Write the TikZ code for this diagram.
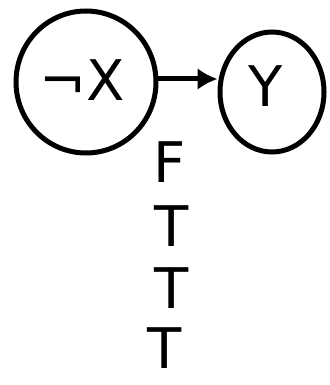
\documentclass[tikz,border=0pt]{standalone}
\usepackage{fontspec}
\setmainfont{DejaVu Sans}
\usetikzlibrary{arrows.meta,shapes.geometric}
\tikzset{
  circ/.style={draw, line width=5pt, ellipse},
  lbl/.style={font=\fontsize{56}{56}\selectfont, inner sep=0pt},
  conn/.style={line width=5pt, -{Latex[length=20pt,width=22pt]}, line cap=round}
}
\begin{document}
\begin{tikzpicture}[x=1pt,y=1pt]
\useasboundingbox (0,0) rectangle (329,-385);
\node[circ, minimum width=140pt, minimum height=142pt] (nx) at (86,-82) {};
\node[circ, minimum width=104pt, minimum height=120pt] (ny) at (272,-92) {};
\node[lbl] (tx) at (82,-80) {¬X};
\node[lbl] (ty) at (266,-86) {Y};
\coordinate (a1) at ([yshift=3pt]nx.east);
\draw[conn] (a1) -- (a1 -| ny.west);
\node[lbl] (f) at (170,-162) {F};
\node[lbl] (t1) at (172,-226) {T};
\node[lbl] (t2) at (172,-288) {T};
\node[lbl] (t3) at (165,-348) {T};
\end{tikzpicture}
\end{document}
